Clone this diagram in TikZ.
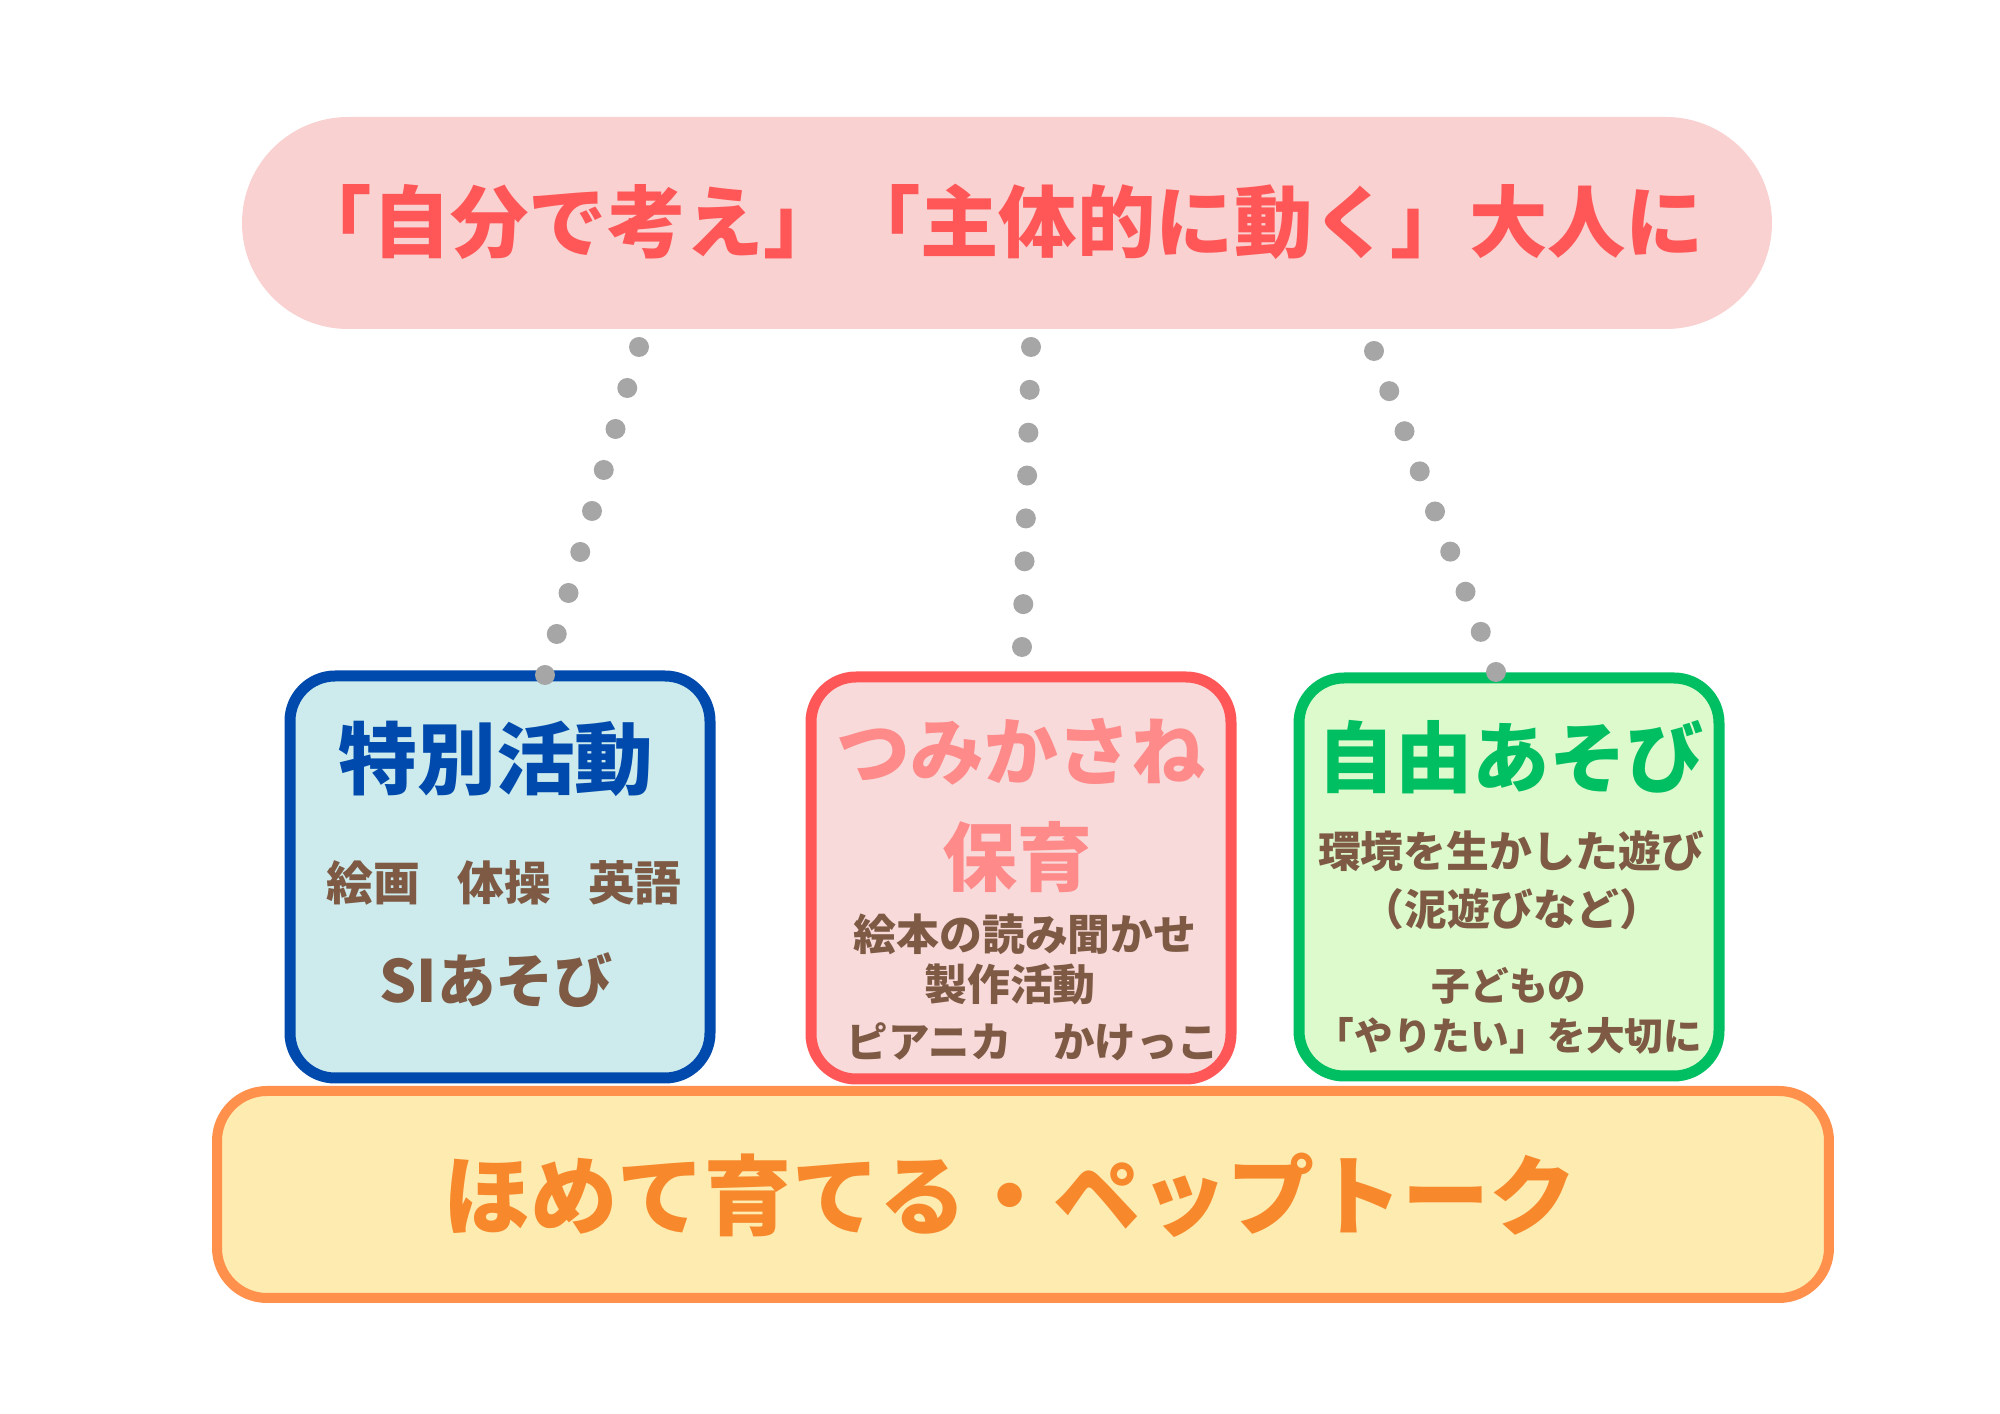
\documentclass[tikz,border=0pt]{standalone}
\usepackage{fontspec}
\setmainfont{Noto Sans CJK JP}
\usepackage{tikz}
\usetikzlibrary{positioning, calc}
\definecolor{pillpink}{HTML}{F9D1D1}
\definecolor{titlered}{HTML}{FF5757}
\definecolor{sblue}{HTML}{004AAD}
\definecolor{sbluefill}{HTML}{CDEBEC}
\definecolor{tredfill}{HTML}{F8DADA}
\definecolor{tsalmon}{HTML}{FF8A8A}
\definecolor{fgreen}{HTML}{00BF63}
\definecolor{fgreenfill}{HTML}{DCFACB}
\definecolor{txtbrown}{HTML}{7E5A45}
\definecolor{porange}{HTML}{FF914D}
\definecolor{porangefill}{HTML}{FDEBB0}
\definecolor{ptext}{HTML}{F7882B}
\definecolor{dotgray}{HTML}{A6A6A6}
\tikzset{
  card/.style={rectangle, draw, rounded corners=4.5mm, line width=1.1mm,
               minimum width=42mm, minimum height=40.2mm, inner sep=0pt},
  head/.style={font=\bfseries\fontsize{22}{24}\selectfont},
  item/.style={font=\bfseries\fontsize{12.2}{14}\selectfont, text=txtbrown, inner sep=0pt},
  dotdot/.style={fill=dotgray},
}

\begin{document}
\begin{tikzpicture}[x=0.1mm, y=-0.1mm]
  \useasboundingbox (0,0) rectangle (2000,1414);

  % goal on top
  \node[fill=pillpink, rounded corners=10.6mm, minimum width=153mm, minimum height=21.2mm] (goal) at (1007,223) {};
  \node[font=\bfseries\fontsize{22.3}{24}\selectfont, text=titlered] (goaltxt) at (999,222)
    {「自分で考え」「主体的に動く」大人に};

  % three cards
  \node[card, draw=sblue, fill=sbluefill] (special) at (500,877) {};
  \node[card, draw=titlered, fill=tredfill] (daily) at (1021,878) {};
  \node[card, draw=fgreen, fill=fgreenfill, minimum height=39.8mm] (free) at (1509,877) {};

  \node[head, text=sblue, font=\bfseries\fontsize{22.4}{24}\selectfont] (specialh) at (496,759) {特別活動};
  \node[item, font=\bfseries\fontsize{13.3}{15}\selectfont] (speciala) at (504,883) {絵画\hspace{.8em}体操\hspace{.8em}英語};
  \node[item, font=\bfseries\fontsize{16.6}{18}\selectfont] (specialb) at (496,980) {SIあそび};

  \node[head, text=tsalmon, font=\bfseries\fontsize{21}{24}\selectfont] (dailyh) at (1021,752) {つみかさね};
  \node[head, text=tsalmon, font=\bfseries\fontsize{21.3}{24}\selectfont] (dailyh2) at (1017,857) {保育};
  \node[item] (dailya) at (1025,934) {絵本の読み聞かせ};
  \node[item] (dailyb) at (1010,984) {製作活動};
  \node[item, font=\bfseries\fontsize{11.8}{14}\selectfont] (dailyc) at (1033,1042) {ピアニカ　かけっこ};

  \node[head, text=fgreen] (freeh) at (1511,757) {自由あそび};
  \node[item] (freea) at (1511,851) {環境を生かした遊び};
  \node[item] (freeb) at (1512,909) {（泥遊びなど）};
  \node[item, font=\bfseries\fontsize{11}{13}\selectfont] (freec) at (1509,986) {子どもの};
  \node[item, font=\bfseries\fontsize{11}{13}\selectfont] (freed) at (1509,1036) {「やりたい」を大切に};

  % base
  \node[draw=porange, fill=porangefill, line width=1mm, rounded corners=5mm,
        minimum width=161.2mm, minimum height=20.7mm] (base) at (1023,1194.5) {};
  \node[font=\bfseries\fontsize{24.8}{28}\selectfont, text=ptext] (basetxt) at (1010,1195)
    {ほめて育てる・ペップトーク};

  % dotted links
  \coordinate (l1) at (639,347);  \coordinate (l2) at (545,675);
  \coordinate (m1) at (1031,347); \coordinate (m2) at (1022,647);
  \coordinate (r1) at (1374,351); \coordinate (r2) at (1496,672);
  \foreach \i in {0,...,8} \fill[dotdot] ($(l1)!\i/8!(l2)$) circle (1mm);
  \foreach \i in {0,...,7} \fill[dotdot] ($(m1)!\i/7!(m2)$) circle (1mm);
  \foreach \i in {0,...,8} \fill[dotdot] ($(r1)!\i/8!(r2)$) circle (1mm);
\end{tikzpicture}
\end{document}
